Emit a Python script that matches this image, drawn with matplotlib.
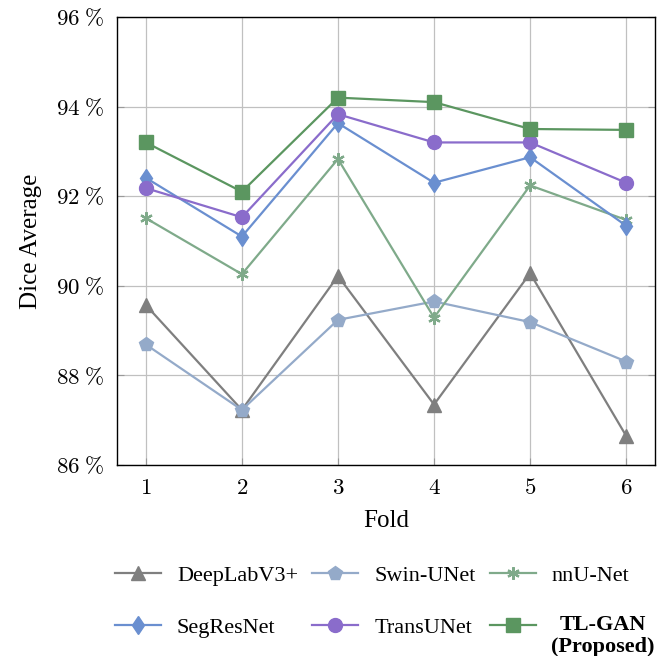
import matplotlib
matplotlib.use("Agg")
import matplotlib.pyplot as plt
from matplotlib.ticker import FixedLocator, FuncFormatter

plt.rcParams['font.family'] = ['Liberation Serif', 'DejaVu Serif']
plt.rcParams['mathtext.fontset'] = 'cm'

folds = [1, 2, 3, 4, 5, 6]
deeplab = [89.57, 87.23, 90.22, 87.35, 90.28, 86.65]
swin = [88.69, 87.23, 89.24, 89.65, 89.19, 88.31]
nnunet = [91.51, 90.26, 92.83, 89.29, 92.24, 91.47]
segres = [92.41, 91.10, 93.63, 92.30, 92.87, 91.34]
transunet = [92.18, 91.53, 93.83, 93.20, 93.20, 92.30]
tlgan = [93.20, 92.10, 94.20, 94.10, 93.50, 93.48]
yticks = [86, 88, 90, 92, 94, 96]

W, H = 665, 656
fig = plt.figure(figsize=(W / 100, H / 100), dpi=100)
ax = fig.add_axes([117 / W, 1 - 465 / H, (655 - 117) / W, (465 - 17) / H])

series = [
    ("DeepLabV3+", deeplab, '#7f7f7f', '^', 9.5, {}),
    ("Swin-UNet", swin, '#94aac9', 'p', 10, {}),
    ("nnU-Net", nnunet, '#7faa8a', (6, 2, 0), 9, {'markeredgewidth': 1.6}),
    ("SegResNet", segres, '#6a8fd0', 'd', 9.5, {}),
    ("TransUNet", transunet, '#8a6ccb', 'o', 10, {}),
    ("TL-GAN", tlgan, '#5b9660', 's', 10, {}),
]
handles = []
for name, vals, c, m, ms, kw in series:
    h, = ax.plot(folds, vals, color=c, marker=m, markersize=ms, linewidth=1.6,
                 markerfacecolor=c, markeredgecolor=c, label=name, **kw)
    handles.append(h)

ax.set_xlim(0.7, 6.3)
ax.set_ylim(86, 96)
ax.xaxis.set_major_locator(FixedLocator(folds))
ax.yaxis.set_major_locator(FixedLocator(yticks))
ax.yaxis.set_major_formatter(FuncFormatter(lambda v, p: r"$%d\;\%%$" % v))
ax.xaxis.set_major_formatter(FuncFormatter(lambda v, p: r"$%d$" % v))
ax.grid(True, color='#c0c0c0', linewidth=0.9)
ax.set_axisbelow(True)
ax.tick_params(direction='in', length=5, color='#999999', labelsize=16.5,
               top=False, right=True, pad=9)
for s in ax.spines.values():
    s.set_linewidth(1.0)
ax.set_xlabel("Fold", fontsize=18, labelpad=8)
ax.set_ylabel("Dice Average", fontsize=18, labelpad=10)

LFS = 16
order = [0, 3, 1, 4, 2, 5]
leg = fig.legend(handles=[handles[i] for i in order], loc='upper left',
                 bbox_to_anchor=(115 / W, 1 - 565 / H), borderpad=0, borderaxespad=0,
                 ncol=3, frameon=False, fontsize=LFS, handlelength=2.07,
                 columnspacing=0.63, labelspacing=1.42, handletextpad=0.72)
tl_text = None
for t in leg.get_texts():
    if t.get_text() == "TL-GAN":
        t.set_alpha(0)
        tl_text = t

fig.canvas.draw()
bb = tl_text.get_window_extent()
left = bb.x0
ycen = (bb.y0 + bb.y1) / 2
p = fig.text(left / W, (ycen - 19) / H, "(Proposed)", fontsize=LFS, fontweight='bold',
             ha='left', va='center')
fig.canvas.draw()
pb = p.get_window_extent()
cx = (pb.x0 + pb.x1) / 2
fig.text(cx / W, (ycen + 3) / H, "TL-GAN", fontsize=LFS, fontweight='bold',
         ha='center', va='center')

fig.savefig("out.png", dpi=100)
